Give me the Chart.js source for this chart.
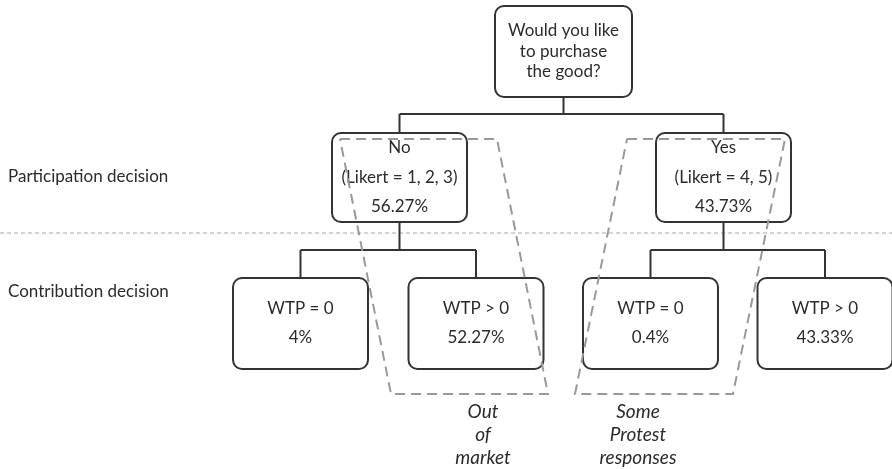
<!DOCTYPE html>
<html>
<head>
<meta charset="utf-8">
<script src="https://cdn.jsdelivr.net/npm/chart.js@4.4.1/dist/chart.umd.min.js"></script>
<style>
  html, body { margin: 0; padding: 0; background: #fff; }
  #tree { display: block; }
</style>
</head>
<body>
<canvas id="tree" width="892" height="469"></canvas>
<script>
// Diagram content
var question = ['Would you like', 'to purchase', 'the good?'];
var participation = ['No', 'Yes'];
var likertRanges = ['(Likert = 1, 2, 3)', '(Likert = 4, 5)'];
var participationShare = [56.27, 43.73];
var contribution = ['WTP = 0', 'WTP > 0', 'WTP = 0', 'WTP > 0'];
var contributionShare = [4, 52.27, 0.4, 43.33];
var levelLabels = ['Participation decision', 'Contribution decision'];
var groupNotes = [['Out', 'of', 'market'], ['Some', 'Protest', 'responses']];

// Layout of the tree in diagram units (scale runs 0..892 x 0..469)
var layout = {
    root: { cx: 563.5, top: 6, bottom: 97, w: 137 },
    mid: { cx: [399.5, 723.5], top: 133, bottom: 222, w: 135 },
    leaf: { cx: [300.5, 476, 650.5, 825], top: 278, bottom: 369, w: 135 },
    rootJoin: 114,
    midJoin: 250,
    separator: 233,
    levelY: [177, 292],
    groups: [
        { top: 139, bottom: 394, left: 340, right: 497, slant: 51, noteX: 483 },
        { top: 139, bottom: 394, left: 627, right: 785, slant: -52, noteX: 638 }
    ],
    noteY: [412, 435, 458]
};

function fmtPct(v) {
    return v + '%';
}

var treePlugin = {
    id: 'tree',
    afterDatasetsDraw: function (chart) {
        var ctx = chart.ctx;
        var xs = chart.scales.x, ys = chart.scales.y;
        var X = function (v) { return xs.getPixelForValue(v); };
        var Y = function (v) { return ys.getPixelForValue(v); };
        var font = "Lato, 'Open Sans', sans-serif";
        var ink = '#2b2b2b';

        function box(cx, top, bottom, w, lines, lineYs) {
            var l = X(cx - w / 2), r = X(cx + w / 2), t = Y(top), b = Y(bottom);
            ctx.save();
            ctx.beginPath();
            ctx.roundRect(l, t, r - l, b - t, 9);
            ctx.fillStyle = '#fff';
            ctx.fill();
            ctx.lineWidth = 2;
            ctx.strokeStyle = '#333';
            ctx.stroke();
            ctx.fillStyle = ink;
            ctx.font = '17px ' + font;
            ctx.textAlign = 'center';
            ctx.textBaseline = 'middle';
            lines.forEach(function (txt, i) {
                ctx.fillText(txt, X(cx), Y(lineYs[i]));
            });
            ctx.restore();
        }

        function line(pts, color, width, dash) {
            ctx.save();
            ctx.beginPath();
            pts.forEach(function (p, i) {
                if (i === 0) ctx.moveTo(X(p[0]), Y(p[1]));
                else ctx.lineTo(X(p[0]), Y(p[1]));
            });
            ctx.strokeStyle = color;
            ctx.lineWidth = width;
            ctx.setLineDash(dash || []);
            ctx.stroke();
            ctx.restore();
        }

        // level separator
        line([[0, layout.separator], [892, layout.separator]], '#a6a6a6', 1, [4, 3]);

        // connectors
        var c = '#333';
        line([[layout.root.cx, layout.root.bottom], [layout.root.cx, layout.rootJoin]], c, 2);
        line([[layout.mid.cx[0], layout.rootJoin], [layout.mid.cx[1], layout.rootJoin]], c, 2);
        layout.mid.cx.forEach(function (mx, i) {
            line([[mx, layout.rootJoin], [mx, layout.mid.top]], c, 2);
            line([[mx, layout.mid.bottom], [mx, layout.midJoin]], c, 2);
            var a = layout.leaf.cx[i * 2], b = layout.leaf.cx[i * 2 + 1];
            line([[a, layout.midJoin], [b, layout.midJoin]], c, 2);
            line([[a, layout.midJoin], [a, layout.leaf.top]], c, 2);
            line([[b, layout.midJoin], [b, layout.leaf.top]], c, 2);
        });

        // boxes
        box(layout.root.cx, layout.root.top, layout.root.bottom, layout.root.w, question, [31, 52, 72]);
        participation.forEach(function (lbl, i) {
            box(layout.mid.cx[i], layout.mid.top, layout.mid.bottom, layout.mid.w,
                [lbl, likertRanges[i], fmtPct(participationShare[i])], [148, 178, 207]);
        });
        contribution.forEach(function (lbl, i) {
            box(layout.leaf.cx[i], layout.leaf.top, layout.leaf.bottom, layout.leaf.w,
                [lbl, fmtPct(contributionShare[i])], [309, 338]);
        });

        // dashed groupings
        layout.groups.forEach(function (g, i) {
            line([[g.left, g.top], [g.right, g.top], [g.right + g.slant, g.bottom],
                  [g.left + g.slant, g.bottom], [g.left, g.top]], '#999', 2, [10, 6]);
            ctx.save();
            ctx.fillStyle = ink;
            ctx.font = 'italic 19px ' + font;
            ctx.textAlign = 'center';
            ctx.textBaseline = 'middle';
            groupNotes[i].forEach(function (txt, j) {
                ctx.fillText(txt, X(g.noteX), Y(layout.noteY[j]));
            });
            ctx.restore();
        });

        // level labels
        ctx.save();
        ctx.fillStyle = ink;
        ctx.font = '17px ' + font;
        ctx.textAlign = 'left';
        ctx.textBaseline = 'middle';
        levelLabels.forEach(function (txt, i) {
            ctx.fillText(txt, X(8), Y(layout.levelY[i]));
        });
        ctx.restore();
    }
};

// node anchors as a scatter dataset (invisible points)
var anchors = [{ x: layout.root.cx, y: (layout.root.top + layout.root.bottom) / 2 }]
    .concat(layout.mid.cx.map(function (v) { return { x: v, y: (layout.mid.top + layout.mid.bottom) / 2 }; }))
    .concat(layout.leaf.cx.map(function (v) { return { x: v, y: (layout.leaf.top + layout.leaf.bottom) / 2 }; }));

var ctx = document.getElementById('tree').getContext('2d');
new Chart(ctx, {
    type: 'scatter',
    data: {
        datasets: [{
            label: 'nodes',
            data: anchors,
            pointRadius: 0,
            pointHoverRadius: 0
        }]
    },
    options: {
        responsive: false,
        animation: false,
        layout: { padding: 0 },
        scales: {
            x: { type: 'linear', min: 0, max: 892, display: false },
            y: { type: 'linear', min: 0, max: 469, reverse: true, display: false }
        },
        plugins: {
            legend: { display: false },
            tooltip: { enabled: false }
        }
    },
    plugins: [treePlugin]
});
</script>
</body>
</html>
